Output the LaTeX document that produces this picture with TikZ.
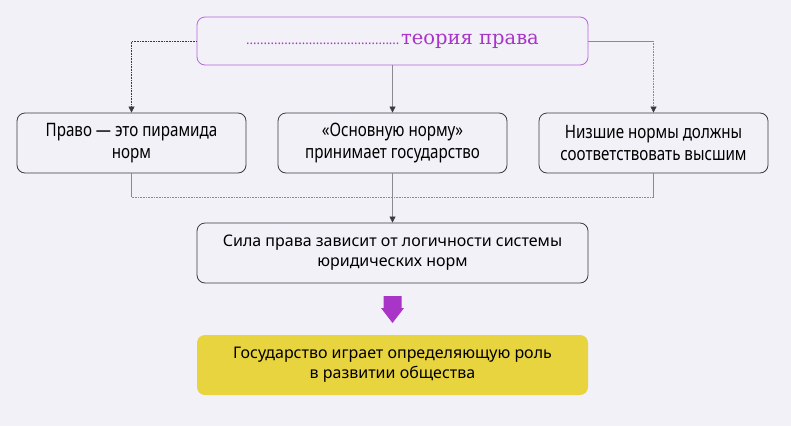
\documentclass[tikz,border=0pt]{standalone}
\usepackage{fontspec}
\setmainfont{Noto Sans}
\newfontfamily\narrowf[FakeStretch=0.82]{Noto Sans}
\newfontfamily\slabf{DejaVu Serif}
\usetikzlibrary{arrows.meta}
\definecolor{bgc}{HTML}{F1F1F7}
\definecolor{boxline}{HTML}{3A3A3F}
\definecolor{purp}{HTML}{A834C8}
\definecolor{purpline}{HTML}{B866D8}
\definecolor{conn}{HTML}{8A8A90}
\definecolor{yel}{HTML}{E8D43E}
\begin{document}
\begin{tikzpicture}[x=1pt,y=-1pt,
  rowbox/.style={draw=boxline,line width=0.8pt,rounded corners=8pt,minimum width=229pt,minimum height=60pt,align=center,font=\narrowf\fontsize{18.5}{22}\selectfont,inner sep=0pt},
  widebox/.style={rounded corners=8pt,minimum width=391pt,minimum height=60pt,align=center,font=\fontsize{16}{20}\selectfont,inner sep=0pt},
  tip/.style={-{Triangle[width=6pt,length=6pt,color=boxline]}},
  conline/.style={draw=conn,line width=0.6pt},
  dotline/.style={draw=boxline,line width=0.6pt,densely dotted}]
\fill[bgc] (0,0) rectangle (791,426);
\useasboundingbox (0,0) rectangle (791,426);
% top box
\node[draw=purpline,line width=0.8pt,rounded corners=8pt,minimum width=391pt,minimum height=48pt,inner sep=0pt] (top) at (392.5,41) {{\color{purp}\fontsize{13}{16}\selectfont ............................................}\,{\color{purp}\slabf\fontsize{19.5}{24}\selectfont теория права}};
% row boxes
\node[rowbox] (b1) at (131.5,143) {Право — это пирамида\\норм};
\node[rowbox] (b2) at (392.5,143) {«Основную норму»\\принимает государство};
\node[rowbox] (b3) at (653.5,143) {Низшие нормы должны\\соответствовать высшим};
% box 4
\node[widebox,draw=boxline,line width=0.8pt] (b4) at (392.5,253) {Сила права зависит от логичности системы\\юридических норм};
% yellow
\node[widebox,fill=yel] (b5) at (392.5,365) {Государство играет определяющую роль\\в развитии общества};
% top connectors
\draw[dotline,tip] (top.west) -| (b1.north);
\draw[conline] (top.east) -- (653.5,41) coordinate (rc);
\draw[conline,densely dotted,tip] (rc) -- (b3.north);
\draw[conline,tip] (top.south) -- (b2.north);
% bottom connectors
\coordinate (jl) at (131.5,197);
\coordinate (jr) at (653.5,197);
\draw[conline] (b1.south) -- (jl);
\draw[conline] (b3.south) -- (jr);
\draw[conline,densely dotted] (jl) -- (jr);
\draw[conline,tip] (b2.south) -- (b4.north);
% block arrow
\fill[purp] (383.5,296) -- (401.5,296) -- (401.5,308) -- (404,308) -- (392.5,323) -- (381,308) -- (383.5,308) -- cycle;
\end{tikzpicture}
\end{document}
